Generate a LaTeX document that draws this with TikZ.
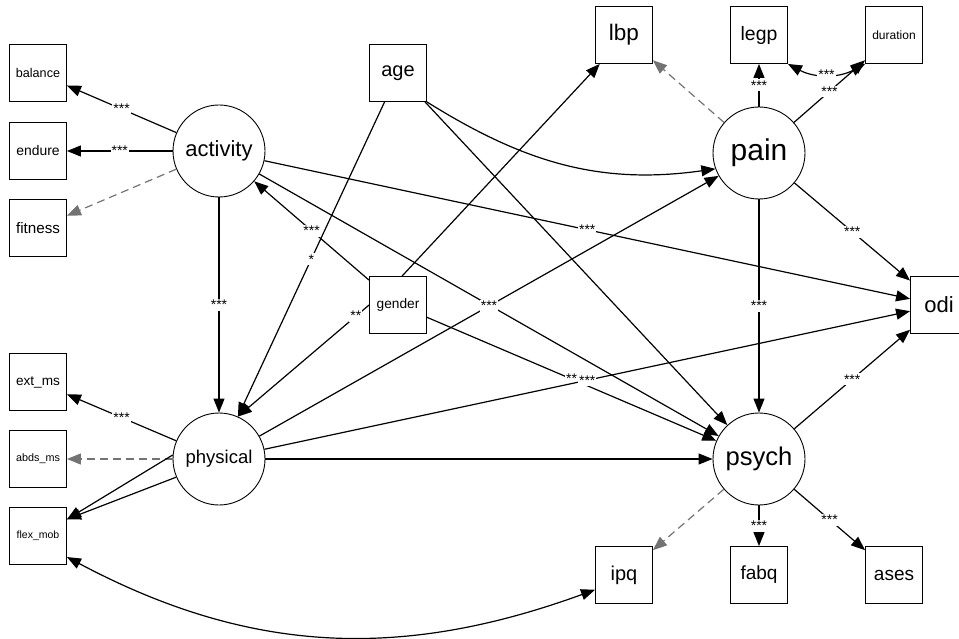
\documentclass[tikz,border=0pt]{standalone}
\usepackage{fontspec}
\setmainfont{Liberation Sans}
\usetikzlibrary{arrows.meta}

\begin{document}
\begin{tikzpicture}[
        x=1pt,
        y=-1pt,
        fsz/.style={font=\fontsize{#1}{#1}\selectfont},
        manifest/.style={draw=black, line width=0.9pt, fill=white, minimum size=57pt, inner sep=0pt},
        latent/.style={draw=black, circle, line width=0.9pt, fill=white, minimum size=92pt, inner sep=0pt},
        reg/.style={-{Triangle[length=14pt, width=11pt]}, line width=1.2pt},
        fixload/.style={-{Triangle[length=14pt, width=11pt]}, line width=1.2pt, black!55, dash pattern=on 8pt off 5pt},
        covar/.style={{Triangle[length=14pt, width=11pt]}-{Triangle[length=14pt, width=11pt]}, line width=1.2pt},
        sig/.style={fill=white, inner sep=1pt, fsz=14}
    ]
        \useasboundingbox (0,0) rectangle (959,639);

        % observed variables
        \foreach \nm/\txt/\x/\y/\fs in {
            balance/balance/38/73/12.6,
            endure/endure/38/151/13.9,
            fitness/fitness/38/228/15.2,
            extms/{ext\_ms}/38/382/13.6,
            abdsms/{abds\_ms}/38/459/10.8,
            flexmob/{flex\_mob}/38/536/10.5,
            age/age/398/73/20,
            gender/gender/398/305/13.7,
            lbp/lbp/624/35/22.5,
            legp/legp/759/35/19.4,
            duration/duration/894/35/12,
            odi/odi/939/305/22,
            ipq/ipq/624/575/20,
            fabq/fabq/759/575/19,
            ases/ases/894/575/19} {
            \node[manifest, fsz=\fs] (\nm) at (\x,\y) {\txt};
        }

        % latent variables
        \foreach \nm/\x/\y/\fs in {activity/219/151/22,physical/219/459/18.5,pain/759/153/30,psych/759/459/25.6} {
            \node[latent, fsz=\fs] (\nm) at (\x,\y) {\nm};
        }

        % measurement part
        \draw[reg] (activity) -- node[sig] {***} (balance);
        \draw[reg] (activity) -- node[sig] {***} (endure);
        \draw[fixload] (activity) -- (fitness);
        \draw[reg] (physical) -- node[sig] {***} (extms);
        \draw[fixload] (physical) -- (abdsms);
        \draw[reg] (physical.175) -- (flexmob.30);
        \draw[reg] (physical.203) -- (flexmob.30);
        \draw[fixload] (pain) -- (lbp);
        \draw[reg] (pain) -- node[sig] {***} (legp);
        \draw[reg] (pain) -- node[sig] {***} (duration);
        \draw[fixload] (psych) -- (ipq);
        \draw[reg] (psych) -- node[sig] {***} (fabq);
        \draw[reg] (psych) -- node[sig] {***} (ases);

        % structural part
        \draw[reg] (activity) -- node[sig] {***} (physical);
        \draw[reg] (gender) -- node[sig] {***} (activity);
        \draw[reg] (age) -- node[sig] {*} (physical.66);
        \draw[reg] (gender.west) -- node[sig, pos=0.1] {**} (physical.66);
        \draw[reg] (gender.82) -- (lbp.230);
        \draw[reg] (age.south east) to[out=-32, in=188] (pain.200);
        \draw[reg] (age) -- (psych);
        \draw[reg] (activity) -- (psych);
        \draw[reg] (physical) -- node[sig] {***} (pain);
        \draw[reg] (activity) -- node[sig] {***} (odi);
        \draw[reg] (gender) -- node[sig] {**} (psych);
        \draw[reg] (physical) -- node[sig] {***} (odi);
        \draw[reg] (physical) -- (psych);
        \draw[reg] (pain) -- node[sig] {***} (psych);
        \draw[reg] (pain) -- node[sig] {***} (odi);
        \draw[reg] (psych) -- node[sig] {***} (odi);

        % residual covariances
        \draw[covar] (legp.south east) to[bend right=28] node[sig] {***} (duration.south west);
        \draw[covar] (flexmob.-36) to[out=-28, in=200] (ipq.207);
    \end{tikzpicture}
\end{document}
